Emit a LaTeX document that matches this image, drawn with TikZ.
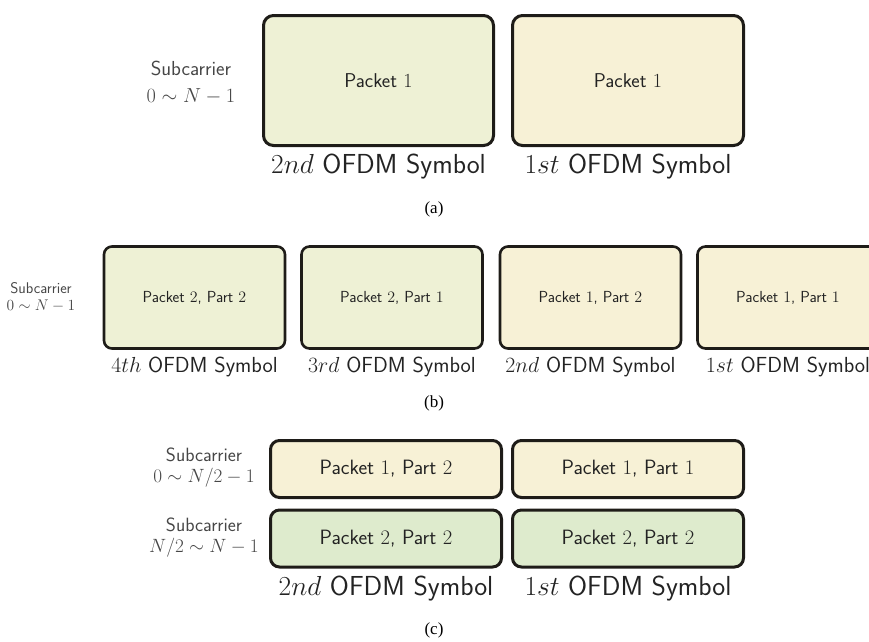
\RequirePackage{fix-cm}
\documentclass[tikz,border=0pt]{standalone}
\usepackage{fontspec}
\newfontfamily\capfont{Liberation Serif}
\definecolor{boxgreen}{RGB}{238,241,213}
\definecolor{boxyellow}{RGB}{247,241,214}
\definecolor{boxgreenc}{RGB}{222,235,205}
\definecolor{edge}{RGB}{30,28,24}
\definecolor{labtext}{RGB}{70,70,70}
\definecolor{maintext}{RGB}{35,35,35}
\tikzset{
  boxa/.style={draw=edge, line width=3pt, rounded corners=10pt, inner sep=0pt, text=maintext,
    font=\sffamily\fontsize{20}{22}\selectfont},
  boxb/.style={draw=edge, line width=2.6pt, rounded corners=8pt, inner sep=0pt, text=maintext,
    font=\sffamily\fontsize{16}{18}\selectfont, minimum width=181pt, minimum height=102pt},
  boxc/.style={draw=edge, line width=3pt, rounded corners=9pt, inner sep=0pt, text=maintext,
    font=\sffamily\fontsize{20.7}{22}\selectfont, minimum width=231pt, minimum height=57pt},
  symlab/.style={text=maintext, inner sep=0pt, font=\sffamily\fontsize{27.5}{29}\selectfont},
  symlabb/.style={text=maintext, inner sep=0pt, font=\sffamily\fontsize{21.8}{23}\selectfont},
  sublab/.style={text=labtext, inner sep=0pt, font=\sffamily\fontsize{20.3}{22}\selectfont},
  sublabc/.style={text=labtext, inner sep=0pt, font=\sffamily\fontsize{19.2}{20}\selectfont},
  sublabb/.style={text=labtext, inner sep=0pt, font=\sffamily\fontsize{15.5}{17}\selectfont},
  capt/.style={inner sep=0pt, font=\capfont\fontsize{17}{19}\selectfont},
}
\begin{document}
\begin{tikzpicture}[x=1pt,y=-1pt]
\useasboundingbox (0,0) rectangle (869,641);
% (a)
\node[boxa, fill=boxgreen, minimum width=230pt, minimum height=130pt] (a1) at (378.5,80.5) {Packet $1$};
\node[boxa, fill=boxyellow, minimum width=231pt, minimum height=130pt] (a2) at (628,80.5) {Packet $1$};
\node[symlab] (la1) at (378.5,167) {$2nd$ OFDM Symbol};
\node[symlab] (la2) at (628,167) {$1st$ OFDM Symbol};
\node[sublab] (sa1) at (191,68) {Subcarrier};
\node[sublab] (sa2) at (191,96) {$0\sim N-1$};
\node[capt] (ca) at (434,209) {(a)};
% (b)
\node[boxb, fill=boxgreen] (b1) at (194.5,297.5) {Packet $2$, Part $2$};
\node[boxb, fill=boxgreen] (b2) at (392,297.5) {Packet $2$, Part $1$};
\node[boxb, fill=boxyellow] (b3) at (590.5,297.5) {Packet $1$, Part $2$};
\node[boxb, fill=boxyellow] (b4) at (788,297.5) {Packet $1$, Part $1$};
\node[symlabb] (lb1) at (194.5,367) {$4th$ OFDM Symbol};
\node[symlabb] (lb2) at (392,367) {$3rd$ OFDM Symbol};
\node[symlabb] (lb3) at (590.5,367) {$2nd$ OFDM Symbol};
\node[symlabb] (lb4) at (788,367) {$1st$ OFDM Symbol};
\node[sublabb] (sb1) at (41,288) {Subcarrier};
\node[sublabb] (sb2) at (41,306) {$0\sim N-1$};
\node[capt] (cb) at (434,403) {(b)};
% (c)
\node[boxc, fill=boxyellow] (c11) at (386,469) {Packet $1$, Part $2$};
\node[boxc, fill=boxyellow] (c12) at (628,469) {Packet $1$, Part $1$};
\node[boxc, fill=boxgreenc] (c21) at (386,538.5) {Packet $2$, Part $2$};
\node[boxc, fill=boxgreenc] (c22) at (628,538.5) {Packet $2$, Part $2$};
\node[symlab] (lc1) at (386,589) {$2nd$ OFDM Symbol};
\node[symlab] (lc2) at (628,589) {$1st$ OFDM Symbol};
\node[sublabc] (sc1a) at (204,455) {Subcarrier};
\node[sublabc] (sc1b) at (204,478) {$0\sim N/2-1$};
\node[sublabc] (sc2a) at (204,524.5) {Subcarrier};
\node[sublabc] (sc2b) at (204,547.5) {$N/2\sim N-1$};
\node[capt] (cc) at (434,630) {(c)};
\end{tikzpicture}
\end{document}
